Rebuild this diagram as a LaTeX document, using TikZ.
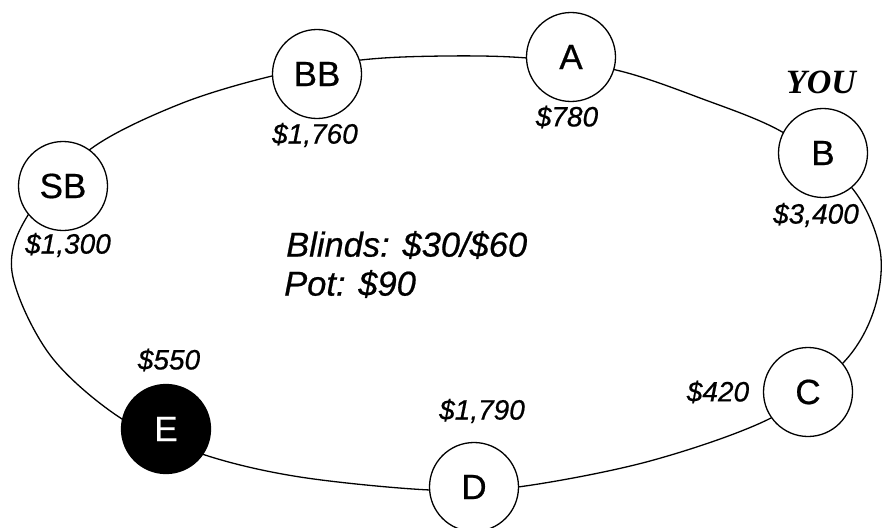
\documentclass[tikz,border=0pt]{standalone}
\usepackage{fontspec}
\setmainfont{Liberation Sans}[FakeBold=0.6]
\newfontfamily\youfont{Liberation Serif}
\begin{document}
\begin{tikzpicture}[x=1pt,y=-1pt,
  seat/.style={circle,draw=black,line width=1.3pt,fill=white,minimum size=89pt,inner sep=0pt,
    font=\fontsize{35}{40}\selectfont},
  hero/.style={seat,fill=black,text=white},
  stack/.style={inner sep=0pt,font=\fontsize{28}{33}\selectfont\itshape},
  info/.style={inner sep=0pt,align=left,font=\fontsize{34.5}{40}\selectfont\itshape},
  tableline/.style={line width=1.3pt}]
\useasboundingbox (0,0) rectangle (882,527);
% table outline
\draw[tableline] plot[smooth cycle,tension=0.55] coordinates {
  (12,272) (30,212) (92,148) (180,104) (272,76) (361,60) (445,56) (527,58)
  (616,70) (700,98) (784,133) (852,188) (880,250) (874,310) (843,363)
  (771,418) (650,461) (518,487) (430,490) (300,477) (205,455) (122,419) (50,355)};
% seats
\node[seat] (SB) at (63,186) {SB};
\node[seat] (BB) at (317,74) {BB};
\node[seat] (A) at (571,57) {A};
\node[seat] (B) at (823,153) {B};
\node[seat] (C) at (808,392) {C};
\node[seat] (D) at (474,487) {D};
\node[hero] (E) at (166,429) {E};
% stacks
\node[stack] (sSB) at (68,245) {\$1,300};
\node[stack] (sBB) at (315,135) {\$1,760};
\node[stack] (sA) at (567,117) {\$780};
\node[stack] (sB) at (816,215) {\$3,400};
\node[stack] (sC) at (718,392) {\$420};
\node[stack] (sD) at (482,411) {\$1,790};
\node[stack] (sE) at (169,360) {\$550};
\node[inner sep=0pt,font=\youfont\fontsize{34}{38}\selectfont\bfseries\itshape] (you) at (821,82) {YOU};
% center info
\node[info,anchor=west] (blinds) at (286,245) {Blinds: \$30/\$60};
\node[info,anchor=west] (pot) at (284,284) {Pot: \$90};
\end{tikzpicture}
\end{document}
